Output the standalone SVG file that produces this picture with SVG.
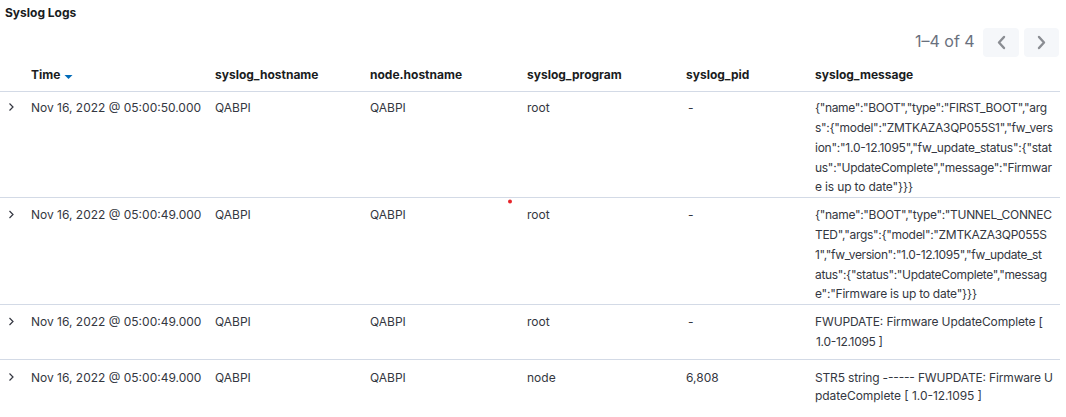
<svg xmlns="http://www.w3.org/2000/svg" width="1066" height="417" viewBox="0 0 1066 417">
<style>
text{font-family:Inter,"Noto Sans","Liberation Sans",sans-serif;font-size:12px;fill:#343741}
.h{font-weight:700;fill:#1a1c21}
.t{font-weight:700;fill:#1a1c21}
.pg{font-size:16px;fill:#69707d}
.ln{stroke:#d3dae6;stroke-width:1}
.chev{fill:none;stroke:#343741;stroke-width:1.2}
.pch{fill:none;stroke:#8a8d93;stroke-width:2.4;stroke-linecap:round;stroke-linejoin:round}
</style>
<rect width="1066" height="417" fill="#ffffff"/>
<g id="title"><text class="t" x="5" y="17">Syslog Logs</text></g>
<g id="pagination">
<text class="pg" x="915" y="47">1–4 of 4</text>
<rect x="983" y="28" width="36" height="29" rx="4" fill="#f5f7fa"/>
<rect x="1024" y="28" width="35" height="29" rx="4" fill="#f5f7fa"/>
<path class="pch" d="M1004 37 L999 42.5 L1004 48"/>
<path class="pch" d="M1039 37 L1044 42.5 L1039 48"/>
</g>
<g id="header">
<text class="h" x="31" y="79">Time</text>
<path d="M64.5 75 L72.5 75 L68.5 79 Z" fill="#006bb8"/>
<text class="h" x="215" y="79">syslog_hostname</text>
<text class="h" x="370" y="79">node.hostname</text>
<text class="h" x="527" y="79">syslog_program</text>
<text class="h" x="686" y="79">syslog_pid</text>
<text class="h" x="815" y="79">syslog_message</text>
</g>
<g id="connectors">
<line class="ln" x1="0" y1="91.5" x2="1060" y2="91.5"/>
<line class="ln" x1="0" y1="197.5" x2="1060" y2="197.5"/>
<line class="ln" x1="0" y1="304.5" x2="1060" y2="304.5"/>
<line class="ln" x1="0" y1="359.5" x2="1060" y2="359.5"/>
</g>
<g id="row1">
<path class="chev" d="M9.5 103.5 L13 107 L9.5 110.5"/>
<text x="31" y="112">Nov 16, 2022 @ 05:00:50.000</text>
<text x="215" y="112">QABPI</text>
<text x="370" y="112">QABPI</text>
<text x="527" y="112">root</text>
<text x="688" y="112">-</text>
<text x="815" y="112" textLength="232" lengthAdjust="spacing">{"name":"BOOT","type":"FIRST_BOOT","arg</text>
<text x="815" y="132" textLength="238" lengthAdjust="spacing">s":{"model":"ZMTKAZA3QP055S1","fw_vers</text>
<text x="815" y="152" textLength="237" lengthAdjust="spacing">ion":"1.0-12.1095","fw_update_status":{"stat</text>
<text x="815" y="172" textLength="237" lengthAdjust="spacing">us":"UpdateComplete","message":"Firmwar</text>
<text x="815" y="191" textLength="98" lengthAdjust="spacing">e is up to date"}}}</text>
</g>
<g id="row2">
<path class="chev" d="M9.5 211 L13 214.5 L9.5 218"/>
<text x="31" y="219">Nov 16, 2022 @ 05:00:49.000</text>
<text x="215" y="219">QABPI</text>
<text x="370" y="219">QABPI</text>
<text x="527" y="219">root</text>
<text x="688" y="219">-</text>
<text x="815" y="219" textLength="237" lengthAdjust="spacing">{"name":"BOOT","type":"TUNNEL_CONNEC</text>
<text x="815" y="239" textLength="232" lengthAdjust="spacing">TED","args":{"model":"ZMTKAZA3QP055S</text>
<text x="815" y="259" textLength="227" lengthAdjust="spacing">1","fw_version":"1.0-12.1095","fw_update_st</text>
<text x="815" y="279" textLength="232" lengthAdjust="spacing">atus":{"status":"UpdateComplete","messag</text>
<text x="815" y="298" textLength="162" lengthAdjust="spacing">e":"Firmware is up to date"}}}</text>
<circle cx="510" cy="201.5" r="2" fill="#e7252b"/>
</g>
<g id="row3">
<path class="chev" d="M9.5 318 L13 321.5 L9.5 325"/>
<text x="31" y="326">Nov 16, 2022 @ 05:00:49.000</text>
<text x="215" y="326">QABPI</text>
<text x="370" y="326">QABPI</text>
<text x="527" y="326">root</text>
<text x="688" y="326">-</text>
<text x="815" y="326" textLength="228" lengthAdjust="spacing">FWUPDATE: Firmware UpdateComplete [</text>
<text x="816" y="346" textLength="67" lengthAdjust="spacing">1.0-12.1095 ]</text>
</g>
<g id="row4">
<path class="chev" d="M9.5 373.5 L13 377 L9.5 380.5"/>
<text x="31" y="382">Nov 16, 2022 @ 05:00:49.000</text>
<text x="215" y="382">QABPI</text>
<text x="370" y="382">QABPI</text>
<text x="527" y="382">node</text>
<text x="686" y="382">6,808</text>
<text x="815" y="382" textLength="238" lengthAdjust="spacing">STR5 string ------ FWUPDATE: Firmware U</text>
<text x="815" y="400" textLength="167" lengthAdjust="spacing">pdateComplete [ 1.0-12.1095 ]</text>
</g>
</svg>
